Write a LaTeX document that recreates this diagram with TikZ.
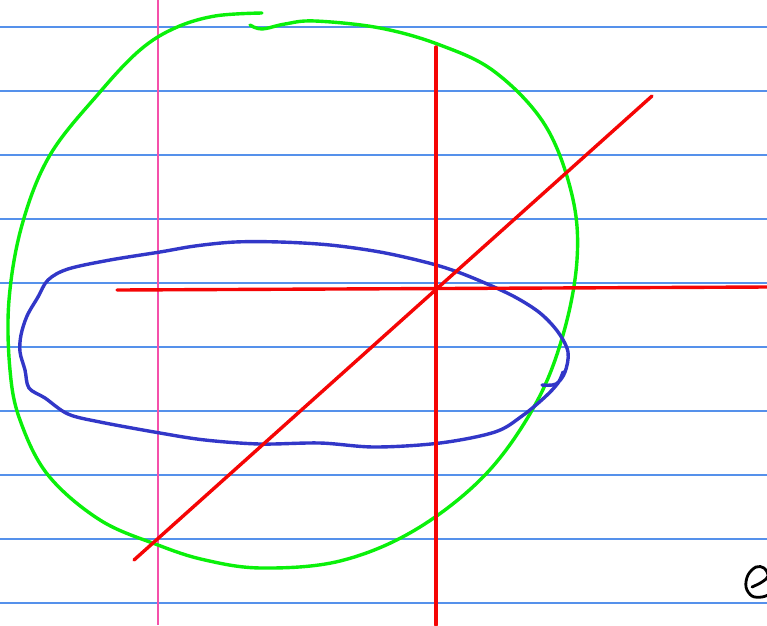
\documentclass[tikz,border=0pt]{standalone}
\begin{document}
\begin{tikzpicture}[x=1pt,y=-1pt,
  rule/.style={draw=ruleblue,line width=1.4pt},
  pen/.style={line width=3.4pt,line cap=round,line join=round}]
\definecolor{ruleblue}{RGB}{85,145,235}
\definecolor{margpink}{RGB}{245,80,170}
\definecolor{pengreen}{RGB}{10,240,10}
\definecolor{penred}{RGB}{245,5,5}
\definecolor{penblue}{RGB}{50,55,200}
\useasboundingbox (0,0) rectangle (767,625);
\clip (0,0) rectangle (767,625);
\fill[white] (0,0) rectangle (767,625);
\foreach \y in {27,91,155,219,283,347,411,475,539,603}
  \draw[rule] (0,\y) -- (767,\y);
\draw[margpink,line width=1.4pt] (158,0) -- (158,625);
% green loop
\draw[pen,pengreen] plot[smooth,tension=0.6] coordinates {
 (262,13) (215,16) (175,28) (140,50) (100,92) (50,155) (22,225) (9,300)
 (10,370) (20,420) (48,475) (100,520) (158,545) (205,560) (262,568) (340,561)
 (415,530) (485,475) (535,405) (563,335) (577,260) (572,195) (545,125)
 (495,72) (440,45) (380,28) (315,21) (285,24) (262,29) (250,25)};
% blue loop
\draw[pen,penblue] plot[smooth,tension=0.55] coordinates {
 (542,385) (556,384) (565,372) (568,352) (558,332) (540,313) (515,297)
 (485,283) (455,271) (425,262) (380,252) (330,245) (280,242) (235,242)
 (195,246) (160,252) (110,260) (68,269) (48,280) (38,297) (27,316)
 (21,335) (20,352) (25,370) (29,388) (45,398) (68,414) (100,422)
 (160,433) (205,440) (260,444) (320,443) (375,447) (440,443) (495,432)
 (522,416) (545,397) (558,383) (563,372)};
% red axes
\draw[pen,penred] (436,47) -- (436,625);
\draw[pen,penred] (117,290) -- (767,287);
\draw[pen,penred] (134,560) -- (652,96);
% partial letter e
\draw[line width=2.8pt,line cap=round,line join=round,black] plot[smooth,tension=0.6] coordinates {
 (752,587) (762,582) (768,576) (764,568) (756,567) (748,575) (746,587) (752,596) (762,597) (770,594)};
\end{tikzpicture}
\end{document}
